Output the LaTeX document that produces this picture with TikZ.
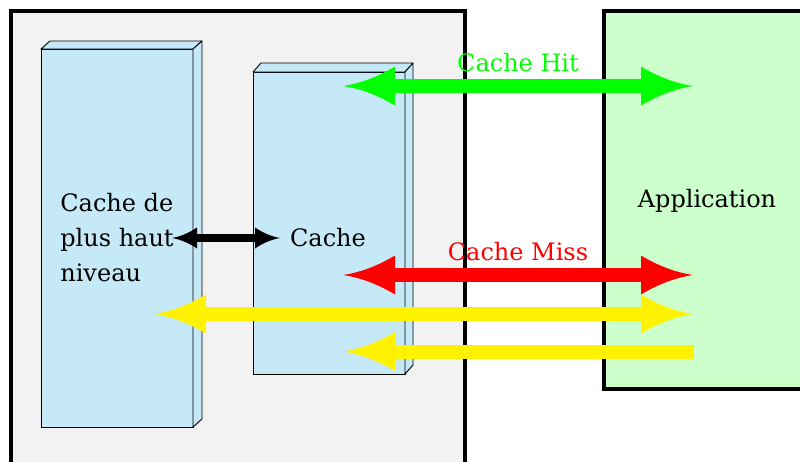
\documentclass[tikz,border=0pt]{standalone}
\usepackage{fontspec}
\setmainfont{DejaVu Serif}
\usetikzlibrary{arrows.meta}
\pgfdeclarearrow{
  name = Fancy,
  parameters = {\the\pgfarrowlength,\the\pgfarrowwidth},
  setup code = {
    \pgfarrowssettipend{0pt}
    \pgfarrowssetlineend{-0.8\pgfarrowlength}
    \pgfarrowssetbackend{-\pgfarrowlength}
    \pgfarrowssavethe\pgfarrowlength
    \pgfarrowssavethe\pgfarrowwidth
  },
  drawing code = {
    \pgfpathmoveto{\pgfpointorigin}
    \pgfpathquadraticcurveto{\pgfpoint{-0.5\pgfarrowlength}{0.1\pgfarrowwidth}}{\pgfpoint{-\pgfarrowlength}{0.5\pgfarrowwidth}}
    \pgfpathlineto{\pgfpoint{-\pgfarrowlength}{-0.5\pgfarrowwidth}}
    \pgfpathquadraticcurveto{\pgfpoint{-0.5\pgfarrowlength}{-0.1\pgfarrowwidth}}{\pgfpointorigin}
    \pgfpathclose
    \pgfusepathqfill
  },
  defaults = {length = 52pt, width = 39pt}
}
\definecolor{bgray}{RGB}{242,242,242}
\definecolor{appgreen}{RGB}{204,255,204}
\definecolor{cblue}{RGB}{198,233,248}
\definecolor{hitgreen}{RGB}{0,255,0}
\definecolor{missred}{RGB}{255,0,0}
\definecolor{fyellow}{RGB}{255,242,0}
\tikzset{
  bigbox/.style={draw=black, line width=4pt, inner sep=0pt, outer sep=0pt, anchor=north west},
  front/.style={draw=black, fill=cblue, line width=0.9pt, inner sep=0pt, outer sep=0pt, anchor=north west},
  face/.style={draw=black, fill=cblue, line width=0.9pt, line join=round},
  lbl/.style={font=\fontsize{24}{35}\selectfont, inner sep=0pt},
  fat/.style={line width=14pt, line cap=butt, -},
  thin/.style={line width=8pt, line cap=butt, {Fancy[length=25pt,width=21pt]}-{Fancy[length=25pt,width=21pt]}},
}
\begin{document}
\begin{tikzpicture}[x=1pt,y=-1pt]
\useasboundingbox (0,0) rectangle (800,461);
\clip (0,0) rectangle (800,461);
% big boxes
\node[bigbox, fill=bgray, minimum width=454pt, minimum height=480pt] (outer) at (11,11) {};
\node[bigbox, fill=appgreen, minimum width=230pt, minimum height=378pt] (app) at (604,11) {};
% left 3D box
\node[front, minimum width=152pt, minimum height=378pt] (L) at (41,49) {};
\draw[face] (L.north west) -- ++(9,-8) -- ++(152,0) -- (L.north east) -- cycle;
\draw[face] (L.north east) -- ++(9,-8) -- ++(0,378) -- (L.south east) -- cycle;
% cache 3D box
\node[front, minimum width=152pt, minimum height=302pt] (C) at (253,72) {};
\draw[face] (C.north west) -- ++(8,-9) -- ++(152,0) -- (C.north east) -- cycle;
\draw[face] (C.north east) -- ++(8,-9) -- ++(0,302) -- (C.south east) -- cycle;
% labels
\node[lbl, align=left] (Ltext) at (L.center) {Cache de\\plus haut\\niveau};
\node[lbl] (Ctext) at (328,238) {Cache};
\node[lbl, anchor=base] (apptext) at (707,207) {Application};
\node[lbl, anchor=base, text=hitgreen] (hit) at (518,71) {Cache Hit};
\node[lbl, anchor=base, text=missred] (miss) at (518,260) {Cache Miss};
% coordinates
\coordinate (bl) at (172,238);
\coordinate (br) at (280,238);
\coordinate (gl) at (343,86);
\coordinate (gr) at (693,86);
\coordinate (rl) at (343,275);
\coordinate (rr) at (693,275);
\coordinate (y1l) at (154,314);
\coordinate (y1r) at (693,314);
\coordinate (y2l) at (343,351.5);
\coordinate (y2r) at (694,351.5);
% arrows
\draw[thin, black] (bl) -- (br);
\draw[fat, hitgreen, Fancy-Fancy] (gl) -- (gr);
\draw[fat, missred, Fancy-Fancy] (rl) -- (rr);
\draw[fat, fyellow, Fancy-Fancy] (y1l) -- (y1r);
\draw[fat, fyellow, Fancy-] (y2l) -- (y2r);
\end{tikzpicture}
\end{document}
